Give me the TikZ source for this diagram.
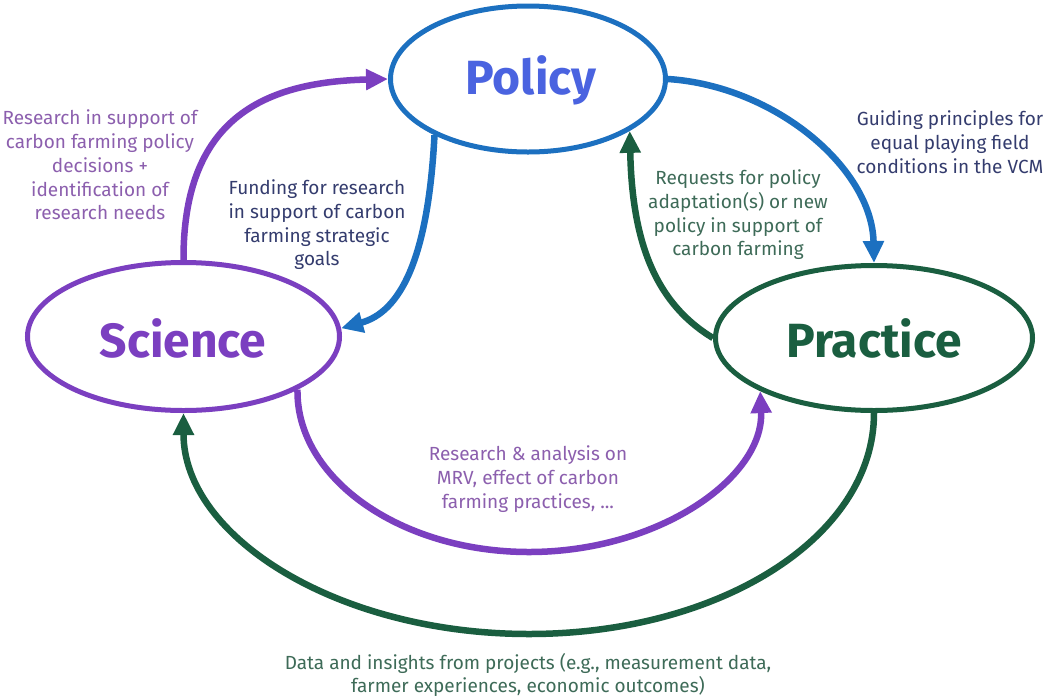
\documentclass[tikz,border=0pt]{standalone}
\usepackage{fontspec}
\setmainfont{Fira Sans}
\usetikzlibrary{shapes.geometric,arrows.meta}
\definecolor{cpurple}{HTML}{7B3FC0}
\definecolor{cblue}{HTML}{1C70C0}
\definecolor{cpolicy}{HTML}{4A63E0}
\definecolor{cgreen}{HTML}{1A5E40}
\definecolor{lpurple}{HTML}{8C5FAE}
\definecolor{lnavy}{HTML}{343C6E}
\definecolor{lgreen}{HTML}{3E6B58}
\tikzset{
  hub/.style={ellipse, draw, line width=5pt, inner sep=0pt, fill=white},
  hubtext/.style={font=\fontsize{48}{52}\selectfont\bfseries},
  flow/.style={line width=6.5pt, -{Triangle[length=22pt,width=20pt]}},
  lab/.style={align=center, font=\fontsize{19}{23.7}\selectfont, inner sep=0pt}
}
\begin{document}
\begin{tikzpicture}[x=1pt,y=-1pt]
\useasboundingbox (0,0) rectangle (1047,697);
\fill[white] (0,0) rectangle (1047,697);
% hubs
\node[hub, draw=cblue, minimum width=275pt, minimum height=146pt] (pol) at (528,79) {};
\node[hub, draw=cpurple, minimum width=312pt, minimum height=148pt] (sci) at (183.5,336.5) {};
\node[hub, draw=cgreen, minimum width=317pt, minimum height=145pt] (prac) at (874,338) {};
\node[hubtext, text=cpolicy] (polt) at (531,80) {Policy};
\node[hubtext, text=cpurple] (scit) at (183,338) {Science};
\node[hubtext, text=cgreen] (pract) at (874,338) {Practice};
% connectors
\draw[flow, cpurple] (sci.north) .. controls (183,120) and (262,82) .. (pol.west);
\draw[flow, cblue] (pol.211) .. controls (428,260) and (400,312) .. (sci.3);
\draw[flow, cblue] (pol.east) .. controls (775,86) and (872,168) .. (prac.north);
\draw[flow, cgreen] (prac.west) .. controls (650,300) and (632,232) .. (pol.333);
\draw[flow, cpurple] (sci.335) .. controls (296,478) and (400,552) .. (529,552)
   .. controls (658,552) and (764,478) .. (prac.205);
\draw[flow, cgreen] (prac.south) .. controls (874,537) and (720,634) .. (529,634)
   .. controls (338,634) and (183.5,537) .. (sci.south);
% labels
\node[lab, text=lpurple] (l1) at (100,165) {Research in support of\\carbon farming policy\\decisions +\\identification of\\research needs};
\node[lab, text=lnavy] (l2) at (317,225) {Funding for research\\in support of carbon\\farming strategic\\goals};
\node[lab, text=lnavy] (l3) at (950,142) {Guiding principles for\\equal playing field\\conditions in the VCM};
\node[lab, text=lgreen] (l4) at (738,215) {Requests for policy\\adaptation(s) or new\\policy in support of\\carbon farming};
\node[lab, text=lpurple] (l5) at (528,479) {Research \& analysis on\\MRV, effect of carbon\\farming practices, ...};
\node[lab, text=lgreen] (l6) at (528,675) {Data and insights from projects (e.g., measurement data,\\farmer experiences, economic outcomes)};
\end{tikzpicture}
\end{document}
